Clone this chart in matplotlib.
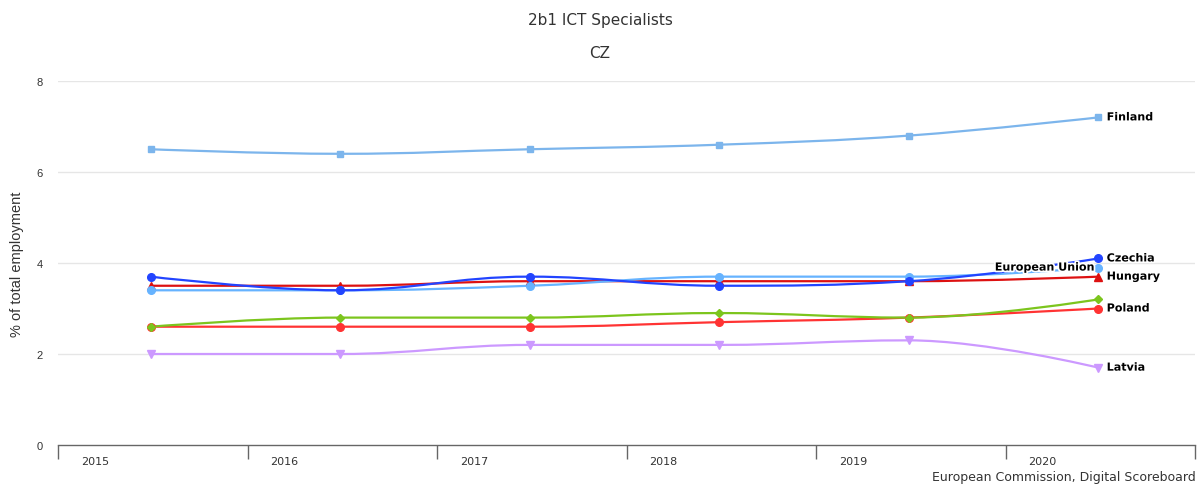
import numpy as np
import matplotlib.pyplot as plt
import matplotlib.patheffects as pe
from matplotlib.path import Path
from matplotlib.patches import PathPatch

# values (% of total employment)
years = [2015, 2016, 2017, 2018, 2019, 2020]
finland = [6.5, 6.4, 6.5, 6.6, 6.8, 7.2]
czechia = [3.7, 3.4, 3.7, 3.5, 3.6, 4.1]
eu = [3.4, 3.4, 3.5, 3.7, 3.7, 3.9]
hungary = [3.5, 3.5, 3.6, 3.6, 3.6, 3.7]
poland = [2.6, 2.6, 2.6, 2.7, 2.8, 3.0]
other = [2.6, 2.8, 2.8, 2.9, 2.8, 3.2]   # green series, no label shown
latvia = [2.0, 2.0, 2.2, 2.2, 2.3, 1.7]

series = [
    # name, values, color, marker, label side
    ("Latvia", latvia, "#cc99ff", "v", "right"),
    ("Poland", poland, "#ff3333", "o", "right"),
    ("", other, "#7cc51d", "D", None),
    ("Hungary", hungary, "#dd1111", "^", "right"),
    ("European Union", eu, "#66b3ff", "o", "left"),
    ("Czechia", czechia, "#2244ff", "o", "right"),
    ("Finland", finland, "#7cb5ec", "s", "right"),
]


def spline_path(xs, ys, smoothing=1.5):
    """Highcharts-style spline as a bezier path."""
    n = len(xs)
    denom = smoothing + 1
    left = [(xs[i], ys[i]) for i in range(n)]
    right = [(xs[i], ys[i]) for i in range(n)]
    for i in range(1, n - 1):
        px, py = xs[i], ys[i]
        lx, ly = xs[i - 1], ys[i - 1]
        nx, ny = xs[i + 1], ys[i + 1]
        lcx = (smoothing * px + lx) / denom
        lcy = (smoothing * py + ly) / denom
        rcx = (smoothing * px + nx) / denom
        rcy = (smoothing * py + ny) / denom
        if rcx != lcx:
            corr = (rcy - lcy) * (rcx - px) / (rcx - lcx) + py - rcy
            lcy += corr
            rcy += corr
        if lcy > ly and lcy > py:
            lcy = max(ly, py)
            rcy = 2 * py - lcy
        elif lcy < ly and lcy < py:
            lcy = min(ly, py)
            rcy = 2 * py - lcy
        if rcy > ny and rcy > py:
            rcy = max(ny, py)
            lcy = 2 * py - rcy
        elif rcy < ny and rcy < py:
            rcy = min(ny, py)
            lcy = 2 * py - rcy
        left[i] = (lcx, lcy)
        right[i] = (rcx, rcy)
    verts = [(xs[0], ys[0])]
    codes = [Path.MOVETO]
    for i in range(1, n):
        verts += [right[i - 1], left[i], (xs[i], ys[i])]
        codes += [Path.CURVE4] * 3
    return Path(verts, codes)


fig = plt.figure(figsize=(11.99, 4.85), dpi=100)
ax = fig.add_axes([58 / 1199, 1 - 446 / 485, (1195 - 58) / 1199, (446 - 82) / 485])

x = np.array(years) + 0.49
outline = [pe.withStroke(linewidth=2.5, foreground="white")]

for name, vals, color, marker, side in series:
    ax.add_patch(PathPatch(spline_path(list(x), vals), fill=False,
                           edgecolor=color, lw=1.6, zorder=3, clip_on=False))
    ms = {"^": 5.5, "v": 5.5, "D": 4.0, "s": 5.0}.get(marker, 5.5)
    ax.plot(x, vals, ls="none", marker=marker, color=color, ms=ms,
            mec=color, zorder=4, clip_on=False)
    if side == "right":
        ax.annotate(name, (x[-1], vals[-1]), xytext=(6, 0),
                    textcoords="offset points", ha="left", va="center",
                    fontsize=8, fontweight="bold", color="#000000",
                    path_effects=outline, zorder=6)
    elif side == "left":
        ax.annotate(name, (x[-1], vals[-1]), xytext=(-3, 0),
                    textcoords="offset points", ha="right", va="center",
                    fontsize=8, fontweight="bold", color="#000000",
                    path_effects=outline, zorder=6)

ax.set_xlim(2015, 2021)
ax.set_ylim(0, 8)

for s in ["top", "right", "left"]:
    ax.spines[s].set_visible(False)
ax.spines["bottom"].set_color("#666666")
ax.spines["bottom"].set_linewidth(1)

ax.set_yticks([0, 2, 4, 6, 8])
ax.set_yticklabels(["0", "2", "4", "6", "8"], fontsize=8, color="#333333",
                   family="Liberation Sans")
ax.tick_params(axis="y", length=0, pad=11)
for yv in [2, 4, 6, 8]:
    ax.axhline(yv, color="#e6e6e6", lw=1, zorder=1)

ax.set_xticks(list(range(2015, 2022)))
ax.set_xticklabels([])
ax.tick_params(axis="x", length=10, width=1, color="#666666", direction="out")
for yr in years:
    ax.annotate(str(yr), (yr + 0.195, 0), xycoords=("data", "axes fraction"),
                xytext=(0, -8), textcoords="offset points", ha="center",
                va="top", fontsize=8, color="#333333")

ax.set_ylabel("% of total employment", fontsize=10.5, color="#333333",
              family="Liberation Sans", labelpad=9)

fig.text(600 / 1199, 1 - 20 / 485, "2b1 ICT Specialists", ha="center",
         va="center", fontsize=11, color="#333333")
fig.text(600 / 1199, 1 - 53 / 485, "CZ", ha="center", va="center",
         fontsize=11, color="#333333")
fig.text(1196 / 1199, 1 - 478 / 485, "European Commission, Digital Scoreboard",
         ha="right", va="center", fontsize=9, color="#333333")

fig.savefig("out.png", dpi=100)
